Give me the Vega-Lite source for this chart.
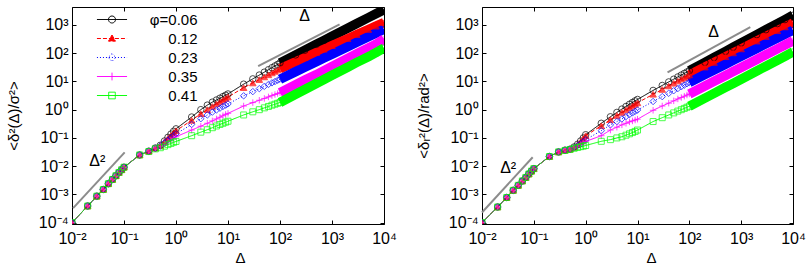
{
"$schema":"https://vega.github.io/schema/vega-lite/v6.json",
"padding":{"left":5,"top":6,"right":0,"bottom":0},
"bounds":"flush",
"spacing":98,
"config":{
"font":"Liberation Sans",
"view":{"stroke":"#000","strokeWidth":1},
"axis":{"grid":false,"domain":false,"labelFontSize":16,"titleFontSize":15,"titleFontWeight":"normal","labelColor":"#000","titleColor":"#000","tickColor":"#000","tickSize":-4,"labelFont":"Liberation Sans","titleFont":"Liberation Sans","labelFlush":false,"labelOverlap":false}
},
"resolve":{"scale":{"x":"independent","y":"independent","color":"independent","strokeDash":"independent"},"legend":{"color":"independent","strokeDash":"independent"}},
"datasets":{
"L":[
{"s":"0.06","d":0.01,"y":0.0001},{"s":"0.06","d":0.02,"y":0.00039},{"s":"0.06","d":0.03,"y":0.00087},{"s":"0.06","d":0.04,"y":0.0015},{"s":"0.06","d":0.05,"y":0.0024},{"s":"0.06","d":0.06,"y":0.0034},{"s":"0.06","d":0.07,"y":0.0046},{"s":"0.06","d":0.08,"y":0.006},{"s":"0.06","d":0.09,"y":0.0075},{"s":"0.06","d":0.1,"y":0.0092},
{"s":"0.06","d":0.2,"y":0.025},{"s":"0.06","d":0.3,"y":0.034},{"s":"0.06","d":0.4,"y":0.044},{"s":"0.06","d":0.5,"y":0.055},{"s":"0.06","d":0.6,"y":0.078},{"s":"0.06","d":0.7,"y":0.105},{"s":"0.06","d":0.8,"y":0.137},{"s":"0.06","d":0.9,"y":0.172},{"s":"0.06","d":1,"y":0.21},
{"s":"0.06","d":2,"y":0.55},{"s":"0.06","d":3,"y":1.0},{"s":"0.06","d":4,"y":1.45},{"s":"0.06","d":5,"y":1.85},{"s":"0.06","d":6,"y":2.2},{"s":"0.06","d":7,"y":2.55},{"s":"0.06","d":8,"y":2.9},{"s":"0.06","d":9,"y":3.25},{"s":"0.06","d":10,"y":3.6},
{"s":"0.06","d":20,"y":8},{"s":"0.06","d":30,"y":12.3},{"s":"0.06","d":40,"y":16.8},{"s":"0.06","d":50,"y":21.3},{"s":"0.06","d":60,"y":25.9},{"s":"0.06","d":70,"y":30.6},{"s":"0.06","d":80,"y":35.3},{"s":"0.06","d":90,"y":40},{"s":"0.06","d":100,"y":45},
{"s":"0.06","d":200,"y":86.5},{"s":"0.06","d":300,"y":127},{"s":"0.06","d":500,"y":206},{"s":"0.06","d":700,"y":282},{"s":"0.06","d":1000,"y":395},{"s":"0.06","d":2000,"y":760},{"s":"0.06","d":3000,"y":1115},{"s":"0.06","d":5000,"y":1810},{"s":"0.06","d":7000,"y":2480},{"s":"0.06","d":10000,"y":3470},
{"s":"0.12","d":0.01,"y":0.0001},{"s":"0.12","d":0.02,"y":0.00039},{"s":"0.12","d":0.03,"y":0.00087},{"s":"0.12","d":0.04,"y":0.0015},{"s":"0.12","d":0.05,"y":0.0024},{"s":"0.12","d":0.06,"y":0.0034},{"s":"0.12","d":0.07,"y":0.0046},{"s":"0.12","d":0.08,"y":0.006},{"s":"0.12","d":0.09,"y":0.0075},{"s":"0.12","d":0.1,"y":0.0092},
{"s":"0.12","d":0.2,"y":0.025},{"s":"0.12","d":0.3,"y":0.034},{"s":"0.12","d":0.4,"y":0.044},{"s":"0.12","d":0.5,"y":0.054},{"s":"0.12","d":0.6,"y":0.074},{"s":"0.12","d":0.7,"y":0.097},{"s":"0.12","d":0.8,"y":0.122},{"s":"0.12","d":0.9,"y":0.15},{"s":"0.12","d":1,"y":0.18},
{"s":"0.12","d":2,"y":0.42},{"s":"0.12","d":3,"y":0.72},{"s":"0.12","d":4,"y":1.0},{"s":"0.12","d":5,"y":1.3},{"s":"0.12","d":6,"y":1.6},{"s":"0.12","d":7,"y":1.9},{"s":"0.12","d":8,"y":2.2},{"s":"0.12","d":9,"y":2.5},{"s":"0.12","d":10,"y":2.8},
{"s":"0.12","d":20,"y":6},{"s":"0.12","d":30,"y":8.8},{"s":"0.12","d":40,"y":11.6},{"s":"0.12","d":50,"y":14.4},{"s":"0.12","d":60,"y":17.1},{"s":"0.12","d":70,"y":19.9},{"s":"0.12","d":80,"y":22.6},{"s":"0.12","d":90,"y":25.3},{"s":"0.12","d":100,"y":28},
{"s":"0.12","d":200,"y":49.3},{"s":"0.12","d":300,"y":68.7},{"s":"0.12","d":500,"y":104},{"s":"0.12","d":700,"y":137},{"s":"0.12","d":1000,"y":184},{"s":"0.12","d":2000,"y":324},{"s":"0.12","d":3000,"y":451},{"s":"0.12","d":5000,"y":684},{"s":"0.12","d":7000,"y":900},{"s":"0.12","d":10000,"y":1200},
{"s":"0.23","d":0.01,"y":0.0001},{"s":"0.23","d":0.02,"y":0.00039},{"s":"0.23","d":0.03,"y":0.00087},{"s":"0.23","d":0.04,"y":0.0015},{"s":"0.23","d":0.05,"y":0.0024},{"s":"0.23","d":0.06,"y":0.0034},{"s":"0.23","d":0.07,"y":0.0046},{"s":"0.23","d":0.08,"y":0.006},{"s":"0.23","d":0.09,"y":0.0075},{"s":"0.23","d":0.1,"y":0.0092},
{"s":"0.23","d":0.2,"y":0.025},{"s":"0.23","d":0.3,"y":0.034},{"s":"0.23","d":0.4,"y":0.043},{"s":"0.23","d":0.5,"y":0.052},{"s":"0.23","d":0.6,"y":0.067},{"s":"0.23","d":0.7,"y":0.084},{"s":"0.23","d":0.8,"y":0.102},{"s":"0.23","d":0.9,"y":0.121},{"s":"0.23","d":1,"y":0.14},
{"s":"0.23","d":2,"y":0.3},{"s":"0.23","d":3,"y":0.48},{"s":"0.23","d":4,"y":0.65},{"s":"0.23","d":5,"y":0.82},{"s":"0.23","d":6,"y":0.98},{"s":"0.23","d":7,"y":1.13},{"s":"0.23","d":8,"y":1.3},{"s":"0.23","d":9,"y":1.45},{"s":"0.23","d":10,"y":1.6},
{"s":"0.23","d":20,"y":3.1},{"s":"0.23","d":30,"y":4.36},{"s":"0.23","d":40,"y":5.55},{"s":"0.23","d":50,"y":6.7},{"s":"0.23","d":60,"y":7.8},{"s":"0.23","d":70,"y":8.9},{"s":"0.23","d":80,"y":9.9},{"s":"0.23","d":90,"y":11},{"s":"0.23","d":100,"y":12},
{"s":"0.23","d":200,"y":22.2},{"s":"0.23","d":300,"y":31.7},{"s":"0.23","d":500,"y":49.8},{"s":"0.23","d":700,"y":67},{"s":"0.23","d":1000,"y":91.8},{"s":"0.23","d":2000,"y":169},{"s":"0.23","d":3000,"y":242},{"s":"0.23","d":5000,"y":380},{"s":"0.23","d":7000,"y":512},{"s":"0.23","d":10000,"y":701},
{"s":"0.35","d":0.01,"y":0.0001},{"s":"0.35","d":0.02,"y":0.00039},{"s":"0.35","d":0.03,"y":0.00087},{"s":"0.35","d":0.04,"y":0.0015},{"s":"0.35","d":0.05,"y":0.0024},{"s":"0.35","d":0.06,"y":0.0034},{"s":"0.35","d":0.07,"y":0.0046},{"s":"0.35","d":0.08,"y":0.006},{"s":"0.35","d":0.09,"y":0.0075},{"s":"0.35","d":0.1,"y":0.0092},
{"s":"0.35","d":0.2,"y":0.025},{"s":"0.35","d":0.3,"y":0.034},{"s":"0.35","d":0.4,"y":0.043},{"s":"0.35","d":0.5,"y":0.05},{"s":"0.35","d":0.6,"y":0.061},{"s":"0.35","d":0.7,"y":0.073},{"s":"0.35","d":0.8,"y":0.085},{"s":"0.35","d":0.9,"y":0.098},{"s":"0.35","d":1,"y":0.11},
{"s":"0.35","d":2,"y":0.19},{"s":"0.35","d":3,"y":0.26},{"s":"0.35","d":4,"y":0.33},{"s":"0.35","d":5,"y":0.4},{"s":"0.35","d":6,"y":0.47},{"s":"0.35","d":7,"y":0.54},{"s":"0.35","d":8,"y":0.61},{"s":"0.35","d":9,"y":0.68},{"s":"0.35","d":10,"y":0.74},
{"s":"0.35","d":20,"y":1.35},{"s":"0.35","d":30,"y":1.78},{"s":"0.35","d":40,"y":2.15},{"s":"0.35","d":50,"y":2.5},{"s":"0.35","d":60,"y":2.83},{"s":"0.35","d":70,"y":3.14},{"s":"0.35","d":80,"y":3.44},{"s":"0.35","d":90,"y":3.72},{"s":"0.35","d":100,"y":4},
{"s":"0.35","d":200,"y":7.7},{"s":"0.35","d":300,"y":11.3},{"s":"0.35","d":500,"y":17.4},{"s":"0.35","d":700,"y":23.9},{"s":"0.35","d":1000,"y":33.5},{"s":"0.35","d":2000,"y":64.9},{"s":"0.35","d":3000,"y":95.3},{"s":"0.35","d":5000,"y":151},{"s":"0.35","d":7000,"y":208},{"s":"0.35","d":10000,"y":316},
{"s":"0.41","d":0.01,"y":0.0001},{"s":"0.41","d":0.02,"y":0.00039},{"s":"0.41","d":0.03,"y":0.00087},{"s":"0.41","d":0.04,"y":0.0015},{"s":"0.41","d":0.05,"y":0.0024},{"s":"0.41","d":0.06,"y":0.0034},{"s":"0.41","d":0.07,"y":0.0046},{"s":"0.41","d":0.08,"y":0.006},{"s":"0.41","d":0.09,"y":0.0075},{"s":"0.41","d":0.1,"y":0.0092},
{"s":"0.41","d":0.2,"y":0.025},{"s":"0.41","d":0.3,"y":0.033},{"s":"0.41","d":0.4,"y":0.041},{"s":"0.41","d":0.5,"y":0.045},{"s":"0.41","d":0.6,"y":0.051},{"s":"0.41","d":0.7,"y":0.058},{"s":"0.41","d":0.8,"y":0.064},{"s":"0.41","d":0.9,"y":0.07},{"s":"0.41","d":1,"y":0.075},
{"s":"0.41","d":2,"y":0.12},{"s":"0.41","d":3,"y":0.16},{"s":"0.41","d":4,"y":0.195},{"s":"0.41","d":5,"y":0.23},{"s":"0.41","d":6,"y":0.265},{"s":"0.41","d":7,"y":0.3},{"s":"0.41","d":8,"y":0.33},{"s":"0.41","d":9,"y":0.36},{"s":"0.41","d":10,"y":0.39},
{"s":"0.41","d":20,"y":0.65},{"s":"0.41","d":30,"y":0.84},{"s":"0.41","d":40,"y":1.0},{"s":"0.41","d":50,"y":1.16},{"s":"0.41","d":60,"y":1.3},{"s":"0.41","d":70,"y":1.44},{"s":"0.41","d":80,"y":1.56},{"s":"0.41","d":90,"y":1.68},{"s":"0.41","d":100,"y":1.8},
{"s":"0.41","d":200,"y":3.5},{"s":"0.41","d":300,"y":5.2},{"s":"0.41","d":500,"y":8.4},{"s":"0.41","d":700,"y":11.7},{"s":"0.41","d":1000,"y":16.4},{"s":"0.41","d":2000,"y":31.9},{"s":"0.41","d":3000,"y":47.1},{"s":"0.41","d":5000,"y":75.3},{"s":"0.41","d":7000,"y":104},{"s":"0.41","d":10000,"y":150}
],
"R":[
{"s":"0.06","d":0.01,"y":0.0001},{"s":"0.06","d":0.02,"y":0.00036},{"s":"0.06","d":0.03,"y":0.00078},{"s":"0.06","d":0.04,"y":0.0014},{"s":"0.06","d":0.05,"y":0.0021},{"s":"0.06","d":0.06,"y":0.003},{"s":"0.06","d":0.07,"y":0.004},{"s":"0.06","d":0.08,"y":0.0053},{"s":"0.06","d":0.09,"y":0.0067},{"s":"0.06","d":0.1,"y":0.0082},
{"s":"0.06","d":0.2,"y":0.022},{"s":"0.06","d":0.3,"y":0.032},{"s":"0.06","d":0.4,"y":0.037},{"s":"0.06","d":0.5,"y":0.04},{"s":"0.06","d":0.6,"y":0.048},{"s":"0.06","d":0.7,"y":0.06},{"s":"0.06","d":0.8,"y":0.078},{"s":"0.06","d":0.9,"y":0.1},{"s":"0.06","d":1,"y":0.13},
{"s":"0.06","d":2,"y":0.33},{"s":"0.06","d":3,"y":0.56},{"s":"0.06","d":4,"y":0.8},{"s":"0.06","d":5,"y":1.05},{"s":"0.06","d":6,"y":1.3},{"s":"0.06","d":7,"y":1.55},{"s":"0.06","d":8,"y":1.8},{"s":"0.06","d":9,"y":2.05},{"s":"0.06","d":10,"y":2.3},
{"s":"0.06","d":20,"y":4.8},{"s":"0.06","d":30,"y":7.2},{"s":"0.06","d":40,"y":9.6},{"s":"0.06","d":50,"y":12},{"s":"0.06","d":60,"y":14.4},{"s":"0.06","d":70,"y":16.8},{"s":"0.06","d":80,"y":19.2},{"s":"0.06","d":90,"y":21.6},{"s":"0.06","d":100,"y":24},
{"s":"0.06","d":200,"y":47.3},{"s":"0.06","d":300,"y":70.4},{"s":"0.06","d":500,"y":116},{"s":"0.06","d":700,"y":162},{"s":"0.06","d":1000,"y":229},{"s":"0.06","d":2000,"y":452},{"s":"0.06","d":3000,"y":673},{"s":"0.06","d":5000,"y":1110},{"s":"0.06","d":7000,"y":1540},{"s":"0.06","d":10000,"y":2190},
{"s":"0.12","d":0.01,"y":0.0001},{"s":"0.12","d":0.02,"y":0.00036},{"s":"0.12","d":0.03,"y":0.00078},{"s":"0.12","d":0.04,"y":0.0014},{"s":"0.12","d":0.05,"y":0.0021},{"s":"0.12","d":0.06,"y":0.003},{"s":"0.12","d":0.07,"y":0.004},{"s":"0.12","d":0.08,"y":0.0053},{"s":"0.12","d":0.09,"y":0.0067},{"s":"0.12","d":0.1,"y":0.0082},
{"s":"0.12","d":0.2,"y":0.022},{"s":"0.12","d":0.3,"y":0.032},{"s":"0.12","d":0.4,"y":0.037},{"s":"0.12","d":0.5,"y":0.04},{"s":"0.12","d":0.6,"y":0.047},{"s":"0.12","d":0.7,"y":0.058},{"s":"0.12","d":0.8,"y":0.074},{"s":"0.12","d":0.9,"y":0.094},{"s":"0.12","d":1,"y":0.12},
{"s":"0.12","d":2,"y":0.27},{"s":"0.12","d":3,"y":0.44},{"s":"0.12","d":4,"y":0.62},{"s":"0.12","d":5,"y":0.8},{"s":"0.12","d":6,"y":0.98},{"s":"0.12","d":7,"y":1.17},{"s":"0.12","d":8,"y":1.36},{"s":"0.12","d":9,"y":1.55},{"s":"0.12","d":10,"y":1.75},
{"s":"0.12","d":20,"y":3.5},{"s":"0.12","d":30,"y":5.2},{"s":"0.12","d":40,"y":6.9},{"s":"0.12","d":50,"y":8.6},{"s":"0.12","d":60,"y":10.3},{"s":"0.12","d":70,"y":12},{"s":"0.12","d":80,"y":13.6},{"s":"0.12","d":90,"y":15.2},{"s":"0.12","d":100,"y":17},
{"s":"0.12","d":200,"y":32.1},{"s":"0.12","d":300,"y":46.7},{"s":"0.12","d":500,"y":74.6},{"s":"0.12","d":700,"y":102},{"s":"0.12","d":1000,"y":141},{"s":"0.12","d":2000,"y":267},{"s":"0.12","d":3000,"y":388},{"s":"0.12","d":5000,"y":621},{"s":"0.12","d":7000,"y":847},{"s":"0.12","d":10000,"y":1175},
{"s":"0.23","d":0.01,"y":0.0001},{"s":"0.23","d":0.02,"y":0.00036},{"s":"0.23","d":0.03,"y":0.00078},{"s":"0.23","d":0.04,"y":0.0014},{"s":"0.23","d":0.05,"y":0.0021},{"s":"0.23","d":0.06,"y":0.003},{"s":"0.23","d":0.07,"y":0.004},{"s":"0.23","d":0.08,"y":0.0053},{"s":"0.23","d":0.09,"y":0.0067},{"s":"0.23","d":0.1,"y":0.0082},
{"s":"0.23","d":0.2,"y":0.022},{"s":"0.23","d":0.3,"y":0.032},{"s":"0.23","d":0.4,"y":0.037},{"s":"0.23","d":0.5,"y":0.04},{"s":"0.23","d":0.6,"y":0.046},{"s":"0.23","d":0.7,"y":0.054},{"s":"0.23","d":0.8,"y":0.063},{"s":"0.23","d":0.9,"y":0.074},{"s":"0.23","d":1,"y":0.087},
{"s":"0.23","d":2,"y":0.18},{"s":"0.23","d":3,"y":0.29},{"s":"0.23","d":4,"y":0.38},{"s":"0.23","d":5,"y":0.47},{"s":"0.23","d":6,"y":0.57},{"s":"0.23","d":7,"y":0.67},{"s":"0.23","d":8,"y":0.77},{"s":"0.23","d":9,"y":0.87},{"s":"0.23","d":10,"y":0.97},
{"s":"0.23","d":20,"y":1.95},{"s":"0.23","d":30,"y":2.9},{"s":"0.23","d":40,"y":3.8},{"s":"0.23","d":50,"y":4.7},{"s":"0.23","d":60,"y":5.6},{"s":"0.23","d":70,"y":6.5},{"s":"0.23","d":80,"y":7.4},{"s":"0.23","d":90,"y":8.3},{"s":"0.23","d":100,"y":9.2},
{"s":"0.23","d":200,"y":17.5},{"s":"0.23","d":300,"y":25.4},{"s":"0.23","d":500,"y":40.8},{"s":"0.23","d":700,"y":55.6},{"s":"0.23","d":1000,"y":77.4},{"s":"0.23","d":2000,"y":147},{"s":"0.23","d":3000,"y":214},{"s":"0.23","d":5000,"y":343},{"s":"0.23","d":7000,"y":468},{"s":"0.23","d":10000,"y":652},
{"s":"0.35","d":0.01,"y":0.0001},{"s":"0.35","d":0.02,"y":0.00036},{"s":"0.35","d":0.03,"y":0.00078},{"s":"0.35","d":0.04,"y":0.0014},{"s":"0.35","d":0.05,"y":0.0021},{"s":"0.35","d":0.06,"y":0.003},{"s":"0.35","d":0.07,"y":0.004},{"s":"0.35","d":0.08,"y":0.0053},{"s":"0.35","d":0.09,"y":0.0067},{"s":"0.35","d":0.1,"y":0.0082},
{"s":"0.35","d":0.2,"y":0.022},{"s":"0.35","d":0.3,"y":0.032},{"s":"0.35","d":0.4,"y":0.037},{"s":"0.35","d":0.5,"y":0.04},{"s":"0.35","d":0.6,"y":0.045},{"s":"0.35","d":0.7,"y":0.051},{"s":"0.35","d":0.8,"y":0.058},{"s":"0.35","d":0.9,"y":0.066},{"s":"0.35","d":1,"y":0.075},
{"s":"0.35","d":2,"y":0.12},{"s":"0.35","d":3,"y":0.19},{"s":"0.35","d":4,"y":0.24},{"s":"0.35","d":5,"y":0.29},{"s":"0.35","d":6,"y":0.33},{"s":"0.35","d":7,"y":0.37},{"s":"0.35","d":8,"y":0.4},{"s":"0.35","d":9,"y":0.43},{"s":"0.35","d":10,"y":0.46},
{"s":"0.35","d":20,"y":0.95},{"s":"0.35","d":30,"y":1.35},{"s":"0.35","d":40,"y":1.7},{"s":"0.35","d":50,"y":2.05},{"s":"0.35","d":60,"y":2.4},{"s":"0.35","d":70,"y":2.7},{"s":"0.35","d":80,"y":3.0},{"s":"0.35","d":90,"y":3.3},{"s":"0.35","d":100,"y":3.6},
{"s":"0.35","d":200,"y":6.9},{"s":"0.35","d":300,"y":10.1},{"s":"0.35","d":500,"y":16.3},{"s":"0.35","d":700,"y":22.4},{"s":"0.35","d":1000,"y":31.3},{"s":"0.35","d":2000,"y":60.1},{"s":"0.35","d":3000,"y":87.9},{"s":"0.35","d":5000,"y":142},{"s":"0.35","d":7000,"y":195},{"s":"0.35","d":10000,"y":273},
{"s":"0.41","d":0.01,"y":0.0001},{"s":"0.41","d":0.02,"y":0.00036},{"s":"0.41","d":0.03,"y":0.00078},{"s":"0.41","d":0.04,"y":0.0014},{"s":"0.41","d":0.05,"y":0.0021},{"s":"0.41","d":0.06,"y":0.003},{"s":"0.41","d":0.07,"y":0.004},{"s":"0.41","d":0.08,"y":0.0053},{"s":"0.41","d":0.09,"y":0.0067},{"s":"0.41","d":0.1,"y":0.0082},
{"s":"0.41","d":0.2,"y":0.022},{"s":"0.41","d":0.3,"y":0.032},{"s":"0.41","d":0.4,"y":0.036},{"s":"0.41","d":0.5,"y":0.039},{"s":"0.41","d":0.6,"y":0.043},{"s":"0.41","d":0.7,"y":0.046},{"s":"0.41","d":0.8,"y":0.049},{"s":"0.41","d":0.9,"y":0.051},{"s":"0.41","d":1,"y":0.054},
{"s":"0.41","d":2,"y":0.076},{"s":"0.41","d":3,"y":0.087},{"s":"0.41","d":4,"y":0.1},{"s":"0.41","d":5,"y":0.11},{"s":"0.41","d":6,"y":0.125},{"s":"0.41","d":7,"y":0.14},{"s":"0.41","d":8,"y":0.155},{"s":"0.41","d":9,"y":0.17},{"s":"0.41","d":10,"y":0.19},
{"s":"0.41","d":20,"y":0.38},{"s":"0.41","d":30,"y":0.52},{"s":"0.41","d":40,"y":0.65},{"s":"0.41","d":50,"y":0.77},{"s":"0.41","d":60,"y":0.89},{"s":"0.41","d":70,"y":1.0},{"s":"0.41","d":80,"y":1.11},{"s":"0.41","d":90,"y":1.22},{"s":"0.41","d":100,"y":1.32},
{"s":"0.41","d":200,"y":2.56},{"s":"0.41","d":300,"y":3.78},{"s":"0.41","d":500,"y":6.2},{"s":"0.41","d":700,"y":8.5},{"s":"0.41","d":1000,"y":12},{"s":"0.41","d":2000,"y":23.4},{"s":"0.41","d":3000,"y":34.5},{"s":"0.41","d":5000,"y":56.3},{"s":"0.41","d":7000,"y":77.8},{"s":"0.41","d":10000,"y":110}
],
"GL":[{"g":"q","d":0.0105,"y":0.00033},{"g":"q","d":0.103,"y":0.031},{"g":"l","d":38,"y":35},{"g":"l","d":1400,"y":1050}],
"GR":[{"g":"q","d":0.01,"y":0.00023},{"g":"q","d":0.095,"y":0.0208},{"g":"l","d":38,"y":21},{"g":"l","d":1500,"y":840}],
"TL":[{"t":"Δ²","d":0.0307,"y":0.0147},{"t":"Δ","d":298,"y":2040}],
"TR":[{"t":"Δ²","d":0.032,"y":0.0089},{"t":"Δ","d":294,"y":575}]
},
"hconcat":[
{
"width":312,"height":217,
"resolve":{"axis":{"x":"independent","y":"independent"}},
"layer":[
{"data":{"name":"L"},"mark":{"type":"line","strokeWidth":1,"clip":true},
"encoding":{
"x":{"field":"d","type":"quantitative","scale":{"type":"log","domain":[0.01,10000],"nice":false},"axis":{"orient":"top","labels":false,"title":null,"values":[0.01,0.1,1,10,100,1000,10000]}},
"y":{"field":"y","type":"quantitative","scale":{"type":"log","domain":[0.00009,4300],"nice":false},"axis":{"orient":"right","labels":false,"title":null,"values":[0.0001,0.001,0.01,0.1,1,10,100,1000]}},
"color":{"field":"s","type":"nominal","scale":{"domain":["0.06","0.12","0.23","0.35","0.41"],"range":["#000000","#ff0000","#0000ff","#ff00ff","#00ff00"]},
"legend":{"orient":"none","legendX":32.5,"legendY":5,"title":null,"padding":0,"labelAlign":"right","labelOffset":78,"labelFontSize":15,"labelFont":"Liberation Sans","labelColor":"#000","symbolSize":49,"symbolOpacity":1,"rowPadding":3,
"labelExpr":"datum.label === '0.06' ? 'φ=0.06' : datum.label",
"encode":{"symbols":{"update":{
"shape":{"signal":"datum.value==='0.06'?'M-4.3,0H4.3M-1,0A1,1 0 1,0 1,0A1,1 0 1,0 -1,0':datum.value==='0.12'?'M-4.3,0H4.3M0,-1L1,0.75L-1,0.75Z':datum.value==='0.23'?'M-4.3,0H4.3M0,-1.1L1.1,0L0,1.1L-1.1,0Z':datum.value==='0.35'?'M-4.3,0H4.3M0,-1.1V1.1':'M-4.3,0H4.3M-0.95,-0.95H0.95V0.95H-0.95Z'"},
"stroke":{"signal":"datum.value==='0.06'?'#000000':datum.value==='0.12'?'#ff0000':datum.value==='0.23'?'#0000ff':datum.value==='0.35'?'#ff00ff':'#00ff00'"},
"fill":{"signal":"datum.value==='0.12'?'#ff0000':'transparent'"},
"strokeDash":{"signal":"datum.value==='0.12'?[3,1.5]:datum.value==='0.23'?[1,1.5]:[1,0]"},
"strokeWidth":{"value":1},"opacity":{"value":1}}}}}},
"strokeDash":{"field":"s","type":"nominal","scale":{"domain":["0.06","0.12","0.23","0.35","0.41"],"range":[[1,0],[4,2],[1,2],[1,0],[1,0]]}}
}},
{"data":{"name":"L"},"transform":[{"filter":"datum.d >= 100"}],"mark":{"type":"line","strokeWidth":9.5,"clip":true,"strokeCap":"butt"},
"encoding":{
"x":{"field":"d","type":"quantitative","axis":null},
"y":{"field":"y","type":"quantitative","axis":null},
"color":{"field":"s","type":"nominal"}
}},
{"data":{"name":"L"},"transform":[{"filter":"datum.s === '0.06'"}],"mark":{"type":"point","shape":"circle","size":42,"strokeWidth":1,"stroke":"#000000","fill":"transparent","clip":true},
"encoding":{
"x":{"field":"d","type":"quantitative","axis":{"orient":"bottom","title":"Δ","values":[0.01,0.1,1,10,100,1000,10000],"labelExpr":"'10' + ['⁻⁴','⁻³','⁻²','⁻¹','⁰','¹','²','³','⁴'][round(log(datum.value)/LN10)+4]","labelPadding":10,"titlePadding":4,"titleX":168}},
"y":{"field":"y","type":"quantitative","axis":{"orient":"left","title":"<δ²(Δ)/σ²>","values":[0.0001,0.001,0.01,0.1,1,10,100,1000],"labelExpr":"'10' + ['⁻⁴','⁻³','⁻²','⁻¹','⁰','¹','²','³','⁴'][round(log(datum.value)/LN10)+4]","labelPadding":8,"titlePadding":17}}
}},
{"data":{"name":"L"},"transform":[{"filter":"datum.s === '0.12'"}],"mark":{"type":"point","shape":"triangle-up","size":42,"strokeWidth":1,"stroke":"#ff0000","fill":"#ff0000","filled":true,"clip":true},
"encoding":{"x":{"field":"d","type":"quantitative","axis":null},"y":{"field":"y","type":"quantitative","axis":null}}},
{"data":{"name":"L"},"transform":[{"filter":"datum.s === '0.23'"}],"mark":{"type":"point","shape":"diamond","size":42,"strokeWidth":1,"stroke":"#0000ff","fill":"transparent","clip":true},
"encoding":{"x":{"field":"d","type":"quantitative","axis":null},"y":{"field":"y","type":"quantitative","axis":null}}},
{"data":{"name":"L"},"transform":[{"filter":"datum.s === '0.35'"}],"mark":{"type":"point","shape":"M-1,0H1M0,-1V1","size":42,"strokeWidth":1,"stroke":"#ff00ff","fill":"transparent","clip":true},
"encoding":{"x":{"field":"d","type":"quantitative","axis":null},"y":{"field":"y","type":"quantitative","axis":null}}},
{"data":{"name":"L"},"transform":[{"filter":"datum.s === '0.41'"}],"mark":{"type":"point","shape":"square","size":36,"strokeWidth":1,"stroke":"#00ff00","fill":"transparent","clip":true},
"encoding":{"x":{"field":"d","type":"quantitative","axis":null},"y":{"field":"y","type":"quantitative","axis":null}}},
{"data":{"name":"GL"},"mark":{"type":"line","color":"#8c8c8c","strokeWidth":2},
"encoding":{"x":{"field":"d","type":"quantitative","axis":null},"y":{"field":"y","type":"quantitative","axis":null},"detail":{"field":"g","type":"nominal"}}},
{"data":{"name":"TL"},"mark":{"type":"text","fontSize":16,"font":"Liberation Sans","color":"#000","align":"center","baseline":"middle"},
"encoding":{"x":{"field":"d","type":"quantitative","axis":null},"y":{"field":"y","type":"quantitative","axis":null},"text":{"field":"t"}}}
]
},
{
"width":311,"height":217,
"resolve":{"axis":{"x":"independent","y":"independent"}},
"layer":[
{"data":{"name":"R"},"mark":{"type":"line","strokeWidth":1,"clip":true},
"encoding":{
"x":{"field":"d","type":"quantitative","scale":{"type":"log","domain":[0.01,10000],"nice":false},"axis":{"orient":"top","labels":false,"title":null,"values":[0.01,0.1,1,10,100,1000,10000]}},
"y":{"field":"y","type":"quantitative","scale":{"type":"log","domain":[0.00009,4300],"nice":false},"axis":{"orient":"right","labels":false,"title":null,"values":[0.0001,0.001,0.01,0.1,1,10,100,1000]}},
"color":{"field":"s","type":"nominal","scale":{"domain":["0.06","0.12","0.23","0.35","0.41"],"range":["#000000","#ff0000","#0000ff","#ff00ff","#00ff00"]},"legend":null},
"strokeDash":{"field":"s","type":"nominal","scale":{"domain":["0.06","0.12","0.23","0.35","0.41"],"range":[[1,0],[4,2],[1,2],[1,0],[1,0]]},"legend":null}
}},
{"data":{"name":"R"},"transform":[{"filter":"datum.d >= 100"}],"mark":{"type":"line","strokeWidth":9.5,"clip":true,"strokeCap":"butt"},
"encoding":{
"x":{"field":"d","type":"quantitative","axis":null},
"y":{"field":"y","type":"quantitative","axis":null},
"color":{"field":"s","type":"nominal","legend":null}
}},
{"data":{"name":"R"},"transform":[{"filter":"datum.s === '0.06'"}],"mark":{"type":"point","shape":"circle","size":42,"strokeWidth":1,"stroke":"#000000","fill":"transparent","clip":true},
"encoding":{
"x":{"field":"d","type":"quantitative","axis":{"orient":"bottom","title":"Δ","values":[0.01,0.1,1,10,100,1000,10000],"labelExpr":"'10' + ['⁻⁴','⁻³','⁻²','⁻¹','⁰','¹','²','³','⁴'][round(log(datum.value)/LN10)+4]","labelPadding":10,"titlePadding":4,"titleX":169}},
"y":{"field":"y","type":"quantitative","axis":{"orient":"left","title":"<δᵣ²(Δ)/rad²>","values":[0.0001,0.001,0.01,0.1,1,10,100,1000],"labelExpr":"'10' + ['⁻⁴','⁻³','⁻²','⁻¹','⁰','¹','²','³','⁴'][round(log(datum.value)/LN10)+4]","labelPadding":8,"titlePadding":17}}
}},
{"data":{"name":"R"},"transform":[{"filter":"datum.s === '0.12'"}],"mark":{"type":"point","shape":"triangle-up","size":42,"strokeWidth":1,"stroke":"#ff0000","fill":"#ff0000","filled":true,"clip":true},
"encoding":{"x":{"field":"d","type":"quantitative","axis":null},"y":{"field":"y","type":"quantitative","axis":null}}},
{"data":{"name":"R"},"transform":[{"filter":"datum.s === '0.23'"}],"mark":{"type":"point","shape":"diamond","size":42,"strokeWidth":1,"stroke":"#0000ff","fill":"transparent","clip":true},
"encoding":{"x":{"field":"d","type":"quantitative","axis":null},"y":{"field":"y","type":"quantitative","axis":null}}},
{"data":{"name":"R"},"transform":[{"filter":"datum.s === '0.35'"}],"mark":{"type":"point","shape":"M-1,0H1M0,-1V1","size":42,"strokeWidth":1,"stroke":"#ff00ff","fill":"transparent","clip":true},
"encoding":{"x":{"field":"d","type":"quantitative","axis":null},"y":{"field":"y","type":"quantitative","axis":null}}},
{"data":{"name":"R"},"transform":[{"filter":"datum.s === '0.41'"}],"mark":{"type":"point","shape":"square","size":36,"strokeWidth":1,"stroke":"#00ff00","fill":"transparent","clip":true},
"encoding":{"x":{"field":"d","type":"quantitative","axis":null},"y":{"field":"y","type":"quantitative","axis":null}}},
{"data":{"name":"GR"},"mark":{"type":"line","color":"#8c8c8c","strokeWidth":2},
"encoding":{"x":{"field":"d","type":"quantitative","axis":null},"y":{"field":"y","type":"quantitative","axis":null},"detail":{"field":"g","type":"nominal"}}},
{"data":{"name":"TR"},"mark":{"type":"text","fontSize":16,"font":"Liberation Sans","color":"#000","align":"center","baseline":"middle"},
"encoding":{"x":{"field":"d","type":"quantitative","axis":null},"y":{"field":"y","type":"quantitative","axis":null},"text":{"field":"t"}}}
]
}
]
}
